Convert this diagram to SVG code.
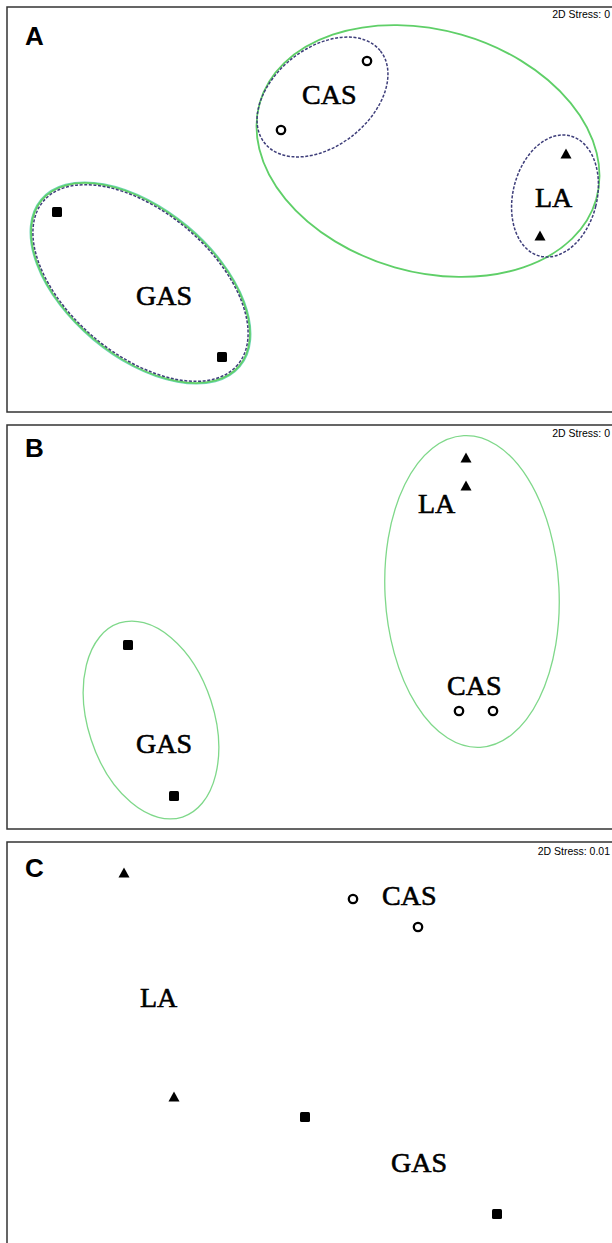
<svg xmlns="http://www.w3.org/2000/svg" width="612" height="1243" viewBox="0 0 612 1243">
<defs>
<style>
.panel{fill:#fff;stroke:#333;stroke-width:1.5}
.letter{font-family:"Liberation Sans",Arial,sans-serif;font-weight:bold;font-size:26px;fill:#000}
.stress{font-family:"Liberation Sans",Arial,sans-serif;font-size:10.5px;fill:#000;text-anchor:end}
.lbl{font-family:"Liberation Serif","Times New Roman",serif;font-size:28px;fill:#000;stroke:#000;stroke-width:0.6}
.grn{fill:none;stroke:#5fcf68;stroke-width:1.8}
.grn2{fill:none;stroke:#7fd88a;stroke-width:1.3}
.cyan{fill:none;stroke:#6fd6b8;stroke-width:1.2}
.dash{fill:none;stroke:#3e3e7a;stroke-width:1.5;stroke-dasharray:3 1.6}
.circ{fill:#fff;stroke:#000;stroke-width:2.3}
.sq{fill:#000}
.tri{fill:#000}
</style>
<rect id="sqm" x="-5" y="-5" width="10" height="10" rx="1.5"/>
<path id="trim" d="M0,-5.5 L5.5,4.5 L-5.5,4.5 Z"/>
</defs>
<rect width="612" height="1243" fill="#fff"/>

<!-- Panel A -->
<g id="panelA">
<rect class="panel" x="7" y="7" width="700" height="405"/>
<text class="letter" x="25" y="45">A</text>
<text class="stress" x="610" y="18">2D Stress: 0</text>
<g id="A-CAS-LA">
<ellipse class="grn" cx="428" cy="151" rx="175" ry="121" transform="rotate(16 428 151)"/>
</g>
<g id="A-CAS">
<ellipse class="dash" cx="322.5" cy="97" rx="74" ry="49" transform="rotate(-38.5 322.5 97)"/>
<text class="lbl" x="302" y="104">CAS</text>
<circle class="circ" cx="367" cy="61" r="4.2"/>
<circle class="circ" cx="281" cy="130" r="4.2"/>
</g>
<g id="A-LA">
<ellipse class="dash" cx="555" cy="196" rx="42" ry="62" transform="rotate(14 555 196)"/>
<text class="lbl" x="535" y="207">LA</text>
<use href="#trim" class="tri" x="566" y="154"/>
<use href="#trim" class="tri" x="540" y="236"/>
</g>
<g id="A-GAS">
<ellipse class="cyan" cx="140.5" cy="283" rx="130" ry="74" transform="rotate(40 140.5 283)"/>
<ellipse class="grn" cx="140.5" cy="283" rx="129" ry="73" transform="rotate(40 140.5 283)"/>
<ellipse class="dash" cx="140.5" cy="283" rx="127" ry="71.5" transform="rotate(40 140.5 283)"/>
<text class="lbl" x="136" y="305">GAS</text>
<use href="#sqm" class="sq" x="57" y="212"/>
<use href="#sqm" class="sq" x="222" y="357"/>
</g>
</g>

<!-- Panel B -->
<g id="panelB">
<rect class="panel" x="7" y="425" width="700" height="404"/>
<text class="letter" x="25" y="457">B</text>
<text class="stress" x="610" y="437">2D Stress: 0</text>
<g id="B-LA-CAS">
<ellipse class="grn2" cx="472" cy="591.5" rx="87" ry="156" transform="rotate(-3 472 591.5)"/>
<text class="lbl" x="418" y="513">LA</text>
<use href="#trim" class="tri" x="466" y="458"/>
<use href="#trim" class="tri" x="466" y="486"/>
<text class="lbl" x="447" y="695">CAS</text>
<circle class="circ" cx="459" cy="711" r="4.2"/>
<circle class="circ" cx="493" cy="711" r="4.2"/>
</g>
<g id="B-GAS">
<ellipse class="grn2" cx="151" cy="720" rx="63" ry="102" transform="rotate(-18 151 720)"/>
<text class="lbl" x="136" y="753">GAS</text>
<use href="#sqm" class="sq" x="128" y="645"/>
<use href="#sqm" class="sq" x="174" y="796"/>
</g>
</g>

<!-- Panel C -->
<g id="panelC">
<rect class="panel" x="7" y="842" width="700" height="450"/>
<text class="letter" x="25" y="877">C</text>
<text class="stress" x="610" y="855">2D Stress: 0.01</text>
<g id="C-CAS">
<circle class="circ" cx="353" cy="899" r="4.2"/>
<circle class="circ" cx="418" cy="927" r="4.2"/>
<text class="lbl" x="382" y="905">CAS</text>
</g>
<g id="C-LA">
<use href="#trim" class="tri" x="124" y="873"/>
<use href="#trim" class="tri" x="174" y="1097"/>
<text class="lbl" x="140" y="1007">LA</text>
</g>
<g id="C-GAS">
<use href="#sqm" class="sq" x="305" y="1117"/>
<use href="#sqm" class="sq" x="497" y="1214"/>
<text class="lbl" x="391" y="1172">GAS</text>
</g>
</g>
</svg>
